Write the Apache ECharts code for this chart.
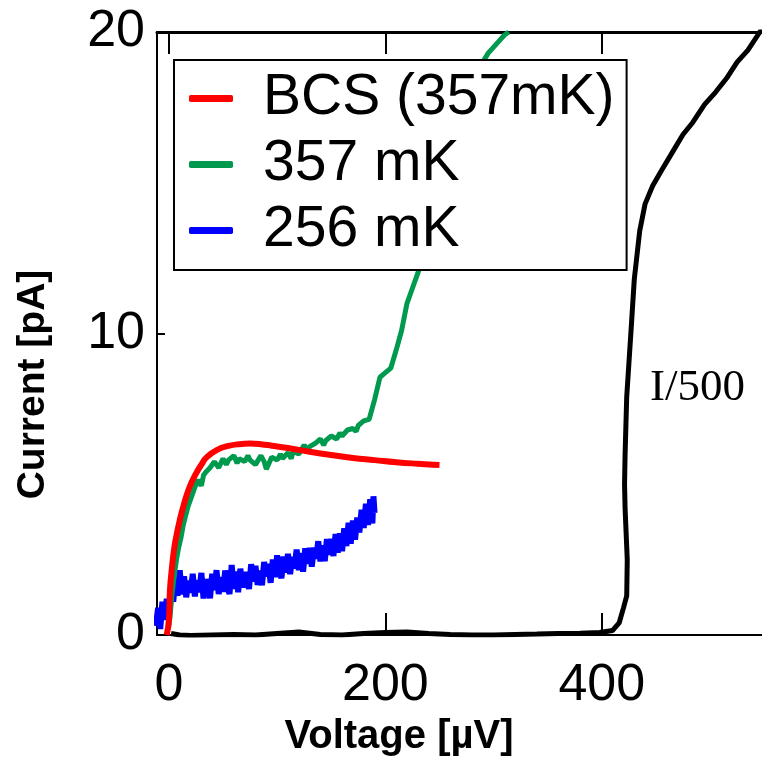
<!DOCTYPE html>
<html>
<head>
<meta charset="utf-8">
<title>I-V curves</title>
<style>
  * { margin: 0; padding: 0; }
  #chart-container { width: 762px; height: 760px; background: #fff; }
</style>
</head>
<body>
<div id="chart-container"></div>
<script src="https://cdn.jsdelivr.net/npm/echarts@6/dist/echarts.min.js"></script>
<script>
// BCS fit at 357 mK
var bcsV = [-2, 0, 1, 3, 5, 7, 10, 14, 19, 25, 30, 35, 45, 55, 65, 75, 85, 95, 110, 130, 150, 170, 190, 210, 230, 250];
var bcsI = [0, 0.5, 1.5, 2.3, 2.9, 3.3, 3.8, 4.35, 4.9, 5.35, 5.65, 5.9, 6.15, 6.27, 6.33, 6.35, 6.33, 6.28, 6.2, 6.08, 5.97, 5.87, 5.8, 5.73, 5.68, 5.64];

// measured at 357 mK
var t357V = [0, 1, 3, 5, 7, 9, 11, 13, 15, 18, 21, 24, 27, 30, 32, 34, 38, 42, 46, 50, 53, 55, 60, 63, 65, 70, 73, 75, 80, 85, 88, 90, 95, 100, 103, 105,
  110, 113, 115, 120, 125, 128, 130, 135, 140, 143, 145, 150, 155, 158, 160, 165, 170, 173, 175, 180, 185, 190, 195, 200, 205, 210, 215, 220, 225,
  230, 235, 240, 245, 250, 255, 260, 265, 270, 275, 280, 285, 290, 295, 300, 305, 310, 314];
var t357I = [0.3, 0.6, 1.4, 2.0, 2.5, 2.9, 3.2, 3.6, 3.9, 4.3, 4.6, 4.9, 5.15, 4.95, 5.3, 5.4, 5.55, 5.75, 5.55, 5.85, 5.65, 5.8, 5.95, 5.7, 5.85, 5.75, 5.95, 5.8, 5.65, 5.95, 5.75, 5.5, 5.9, 5.8, 6.0, 5.85,
  6.05, 5.85, 6.1, 6.0, 6.3, 6.1, 6.25, 6.35, 6.5, 6.3, 6.45, 6.6, 6.5, 6.7, 6.6, 6.8, 6.85, 6.75, 6.95, 7.1, 7.15, 7.8, 8.55, 8.7, 8.85, 9.45, 10.1, 11.0, 11.5,
  12.0, 12.6, 13.3, 13.9, 14.6, 15.2, 15.9, 16.5, 17.0, 17.6, 18.1, 18.6, 19.0, 19.3, 19.5, 19.7, 19.9, 20.0];

// measured at 256 mK
var t256V = [-12, -10, -8, -6, -4, -2, 0, 2, 4, 6, 8, 10, 12, 14, 16, 18, 20, 22, 24, 26, 28, 30, 32, 34, 36, 38, 40, 42, 44, 46, 48,
  50, 52, 54, 56, 58, 60, 62, 64, 66, 68, 70, 72, 74, 76, 78, 80, 82, 84, 86, 88, 90, 92, 94, 96, 98, 100, 102, 104, 106, 108,
  110, 112, 114, 116, 118, 120, 122, 124, 126, 128, 130, 132, 134, 136, 138, 140, 142, 144, 146, 148, 150, 152, 154, 156, 158,
  160, 162, 164, 166, 168, 170, 172, 174, 176, 178, 180, 182, 184, 186, 188, 189, 190];
var t256I = [0.3, 0.9, 0.2, 1.1, 0.5, 1.2, 0.8, 1.5, 1.1, 1.85, 1.3, 2.15, 1.35, 1.95, 1.25, 1.8, 1.4, 2.03, 1.28, 1.82, 1.42, 2.06, 1.21, 1.85, 1.56, 1.22, 2.03, 1.49, 2.15, 1.36, 1.92,
  1.43, 2.14, 1.6, 1.36, 2.32, 1.53, 2.1, 1.42, 2.2, 1.57, 2.09, 1.81, 1.53, 2.35, 1.77, 2.29, 1.66, 2.13, 1.65, 2.42, 1.94, 2.36, 1.73, 2.5, 1.92, 2.64, 2.16, 1.88, 2.6, 2.07,
  2.69, 2.02, 2.59, 2.21, 2.83, 2.15, 2.72, 2.1, 2.88, 2.36, 2.89, 2.27, 2.9, 2.53, 3.11, 2.44, 2.97, 2.45, 3.18, 2.66, 3.19, 2.62, 3.35, 2.73, 3.37,
  2.78, 3.54, 2.95, 3.72, 3.03, 3.8, 3.16, 3.9, 3.4, 4.15, 3.55, 4.35, 3.65, 4.5, 3.7, 4.6, 4.05];

// normal-state branch, current divided by 500
var nV = [2, 10, 20, 40, 60, 80, 100, 120, 140, 160, 180, 200, 220, 240, 260, 280, 300, 320, 340, 360, 380, 398, 410, 416, 420, 423,
  423.5, 421.5, 421, 421.5, 423, 425, 427, 430, 435, 440, 447, 455, 465, 475, 484, 495, 505, 516, 525, 535, 546, 552];
var nI = [0.05, 0, -0.02, 0, 0.02, 0, 0.05, 0.1, 0.02, 0, 0.05, 0.08, 0.1, 0.05, 0.02, 0, 0, 0.02, 0.03, 0.05, 0.06, 0.08, 0.15, 0.4, 0.9, 1.3,
  2.5, 4.2, 5.0, 6.0, 7.9, 9.0, 10.1, 11.8, 13.4, 14.3, 14.9, 15.4, 16.0, 16.6, 17.0, 17.6, 18.0, 18.5, 19.0, 19.4, 20.0, 20.3];

var xTicks = [0, 200, 400];
var names = ['BCS (357mK)', '357 mK', '256 mK'];

function pairs(xs, ys) {
  return xs.map(function (x, i) { return [x, ys[i]]; });
}

var dom = document.getElementById('chart-container');
var myChart = echarts.init(dom, null, { renderer: 'canvas' });

var font = '"Liberation Sans", Arial, sans-serif';

var option = {
  animation: false,
  grid: { left: 157, right: 0, top: 32, bottom: 125, containLabel: false, outerBoundsMode: 'none' },
  legend: {
    data: names,
    orient: 'vertical',
    left: 174,
    top: 60,
    width: 458,
    padding: [10, 12, 11, 15],
    itemGap: 9,
    itemWidth: 44,
    itemHeight: 7,
    icon: 'roundRect',
    backgroundColor: '#fff',
    borderColor: '#000',
    borderWidth: 2,
    textStyle: {
      fontFamily: font,
      fontSize: 57,
      lineHeight: 56,
      color: '#000',
      padding: [0, 0, 0, 25]
    }
  },
  xAxis: [{
    type: 'value',
    min: -11,
    max: 548,
    position: 'bottom',
    name: 'Voltage [µV]',
    nameLocation: 'middle',
    nameGap: 76,
    nameTextStyle: {
      fontFamily: font, fontSize: 40, fontWeight: 'bold', color: '#000',
      padding: [0, 121, 0, 0]
    },
    splitLine: { show: false },
    axisLine: { onZero: false, lineStyle: { color: '#000', width: 2 } },
    axisTick: { inside: true, length: 22, customValues: xTicks, lineStyle: { color: '#000', width: 2 } },
    axisLabel: { customValues: xTicks, fontFamily: font, fontSize: 52, color: '#000', margin: 25 }
  }, {
    type: 'value',
    min: -11,
    max: 548,
    position: 'top',
    splitLine: { show: false },
    axisLine: { onZero: false, lineStyle: { color: '#000', width: 3 } },
    axisTick: { inside: true, length: 22, customValues: xTicks, lineStyle: { color: '#000', width: 2 } },
    axisLabel: { show: false }
  }],
  yAxis: [{
    type: 'value',
    min: 0,
    max: 20,
    interval: 10,
    name: 'Current [pA]',
    nameLocation: 'middle',
    nameGap: 104,
    nameTextStyle: {
      fontFamily: font, fontSize: 39, fontWeight: 'bold', color: '#000',
      padding: [0, 102, 0, 0]
    },
    splitLine: { show: false },
    axisLine: { onZero: false, lineStyle: { color: '#000', width: 2 } },
    axisTick: { inside: true, length: 8, lineStyle: { color: '#000', width: 2 } },
    axisLabel: { fontFamily: font, fontSize: 52, color: '#000', margin: 12 }
  }],
  graphic: [{
    type: 'text',
    left: 650,
    top: 366,
    style: {
      text: 'I/500',
      font: '45px "Liberation Serif", "Times New Roman", serif',
      fill: '#000'
    }
  }],
  series: [{
    name: 'I/500',
    type: 'line',
    showSymbol: false,
    lineStyle: { color: '#000', width: 5 },
    itemStyle: { color: '#000' },
    data: pairs(nV, nI)
  }, {
    name: names[2],
    type: 'line',
    showSymbol: false,
    lineStyle: { color: '#0000ff', width: 6 },
    itemStyle: { color: '#0000ff' },
    data: pairs(t256V, t256I)
  }, {
    name: names[1],
    type: 'line',
    showSymbol: false,
    lineStyle: { color: '#009a4e', width: 5 },
    itemStyle: { color: '#009a4e' },
    data: pairs(t357V, t357I)
  }, {
    name: names[0],
    type: 'line',
    smooth: true,
    showSymbol: false,
    lineStyle: { color: '#ff0000', width: 6 },
    itemStyle: { color: '#ff0000' },
    data: pairs(bcsV, bcsI)
  }]
};

myChart.setOption(option);
window.addEventListener('resize', myChart.resize);
</script>
</body>
</html>
